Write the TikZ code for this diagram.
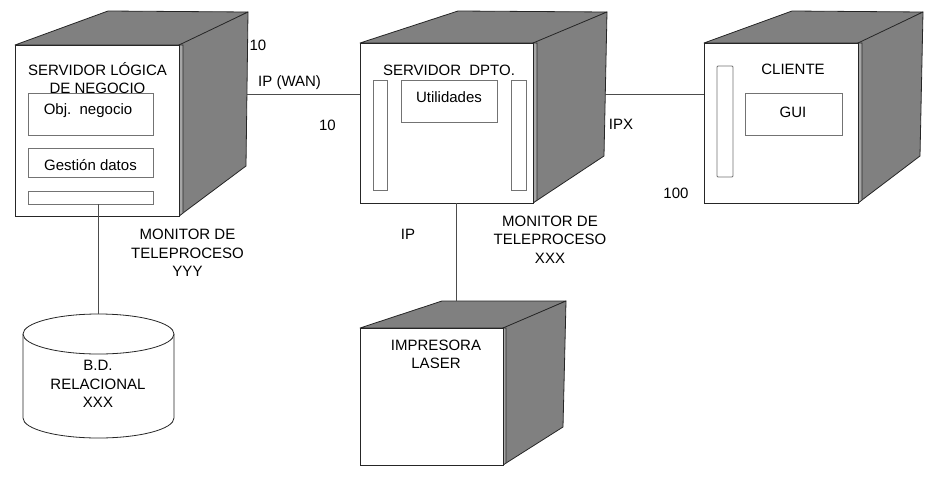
\documentclass[tikz,border=0pt]{standalone}
\usepackage{fontspec}
\setmainfont{Liberation Sans}
\tikzset{
  lbl/.style={font=\fontsize{15}{18.5}\selectfont, align=center, inner sep=0pt},
  face/.style={draw=black!85, line width=0.8pt, fill=white},
  sideface/.style={draw=black!85, line width=0.8pt, fill=black!50, line join=round},
  stripface/.style={draw=black!85, line width=0.6pt, fill=black!35},
  inbox/.style={draw=black!55, line width=0.8pt, fill=white, inner sep=0pt},
  wire/.style={draw=black!70, line width=0.8pt},
}
\begin{document}
\begin{tikzpicture}[x=1pt,y=-1pt]
\useasboundingbox (0,0) rectangle (930,477);

% ---------- Box 1: Servidor logica de negocio ----------
\draw[sideface] (15,45) -- (108,11) -- (248,12) -- (183,45) -- cycle;
\draw[sideface] (179,45) -- (248,12) -- (246,166) -- (179,216) -- cycle;
\draw[stripface] (179,45) -- (183,45) -- (183,213) -- (179,216) -- cycle;
\node[face, inner sep=0pt, minimum width=164pt, minimum height=171pt] (f1) at (97,130.5) {};
\node[inbox, minimum width=125pt, minimum height=42pt] (obj) at (90.5,114) {};
\node[inbox, minimum width=125pt, minimum height=29pt] (gest) at (90.5,162.5) {};
\node[inbox, minimum width=125pt, minimum height=13pt] (bar1) at (90.5,197.5) {};
\node[lbl] (t1) at (97.5,78) {SERVIDOR LÓGICA\\DE NEGOCIO};
\node[lbl] (tobj) at (88,111) {Obj.~~negocio};
\node[lbl] (tgest) at (90.5,165) {Gestión datos};

% ---------- Box 2: Servidor Dpto ----------
\draw[sideface] (360,43) -- (458,11) -- (607,12) -- (537,43) -- cycle;
\draw[sideface] (533,43) -- (607,12) -- (604,156) -- (533,203) -- cycle;
\draw[stripface] (533,43) -- (537,43) -- (537,200) -- (533,203) -- cycle;
\node[face, inner sep=0pt, minimum width=173pt, minimum height=160pt] (f2) at (446.5,123) {};
\node[inbox, minimum width=14pt, minimum height=110pt] (slot2a) at (380,135) {};
\node[inbox, minimum width=15pt, minimum height=110pt] (slot2b) at (518.5,135) {};
\node[inbox, minimum width=96pt, minimum height=42pt] (util) at (449,101) {};
\node[lbl] (t2) at (449,70) {SERVIDOR~~DPTO.};
\node[lbl] (tutil) at (449,97) {Utilidades};

% ---------- Box 3: Cliente ----------
\draw[sideface] (704,43) -- (792,11) -- (923,12) -- (862,43) -- cycle;
\draw[sideface] (858,43) -- (923,12) -- (920,156) -- (858,203) -- cycle;
\draw[stripface] (858,43) -- (862,43) -- (862,200) -- (858,203) -- cycle;
\node[face, inner sep=0pt, minimum width=154pt, minimum height=160pt] (f3) at (781,123) {};
\node[inbox, minimum width=16pt, minimum height=111pt, rounded corners=1pt] (slot3) at (725,121.5) {};
\node[inbox, minimum width=97pt, minimum height=42pt] (gui) at (793.5,114) {};
\node[lbl] (t3) at (793,69) {CLIENTE};
\node[lbl] (tgui) at (793,112) {GUI};

% ---------- Printer ----------
\draw[sideface] (360,328) -- (442,301) -- (566,301) -- (506,328) -- cycle;
\draw[sideface] (503,328) -- (566,301) -- (563,427) -- (503,465) -- cycle;
\draw[stripface] (503,328) -- (506,328) -- (506,463) -- (503,465) -- cycle;
\node[face, inner sep=0pt, minimum width=143pt, minimum height=137pt] (f4) at (431.5,396.5) {};
\node[lbl] (t4) at (436,354.5) {IMPRESORA\\LASER};

% ---------- Database cylinder ----------
\filldraw[fill=white, draw=black!85, line width=0.8pt]
  (23,334) -- (23,418) arc[start angle=180, end angle=360, x radius=75.5pt, y radius=20pt] -- (174,334);
\draw[fill=white, draw=black!85, line width=0.8pt] (98.5,334) ellipse [x radius=75.5pt, y radius=20pt];
\coordinate (dbtop) at (98,314);
\node[lbl] (tdb) at (98,384) {B.D.\\RELACIONAL\\XXX};

% ---------- connection points ----------
\coordinate (s1) at (247,94);
\coordinate (f2w) at (360,94);
\coordinate (s2) at (605,94);
\coordinate (f3w) at (704,94);
\coordinate (f2s) at (456,203);
\coordinate (prtop) at (456,301);

% ---------- connectors ----------
\draw[wire] (s1) -- (f2w);
\draw[wire] (s2) -- (f3w);
\draw[wire] (f2s) -- (prtop);
\draw[wire] (bar1.south -| dbtop) -- (dbtop);

% ---------- labels ----------
\node[lbl] (l10a) at (258,45) {10};
\node[lbl, anchor=west] (lwan) at (258,82.5) {IP (WAN)};
\node[lbl, anchor=east] (l10b) at (336,125) {10};
\node[lbl] (lipx) at (621,124.5) {IPX};
\node[lbl] (l100) at (676,193) {100};
\node[lbl] (lip) at (408,234) {IP};
\node[lbl] (mon1) at (187.5,253) {MONITOR DE\\TELEPROCESO\\YYY};
\node[lbl] (mon2) at (550,239.5) {MONITOR DE\\TELEPROCESO\\XXX};
\end{tikzpicture}
\end{document}
